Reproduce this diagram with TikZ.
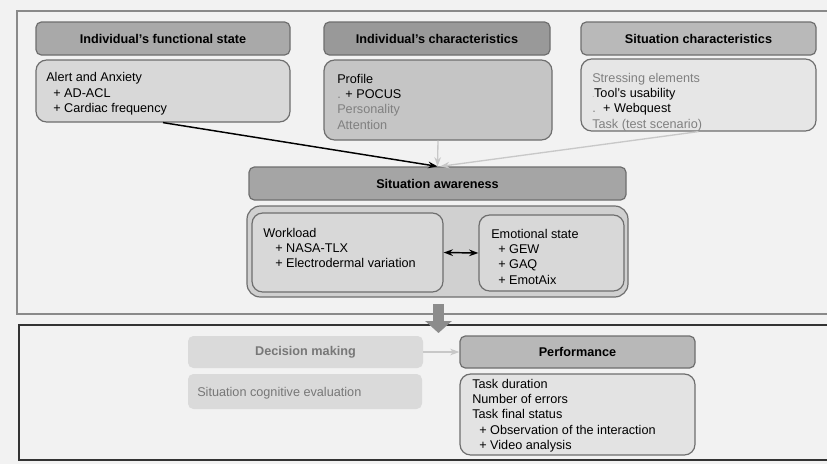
\documentclass[tikz,border=0pt]{standalone}
\usepackage{fontspec}
\setmainfont{Liberation Sans}
\usetikzlibrary{fit,arrows.meta,calc}
\definecolor{bg}{HTML}{F2F2F2}
\definecolor{bordc}{HTML}{6E6E6E}
\definecolor{frameA}{HTML}{8A8A8A}
\definecolor{frameB}{HTML}{333333}
\definecolor{hdrA}{HTML}{A9A9A9}
\definecolor{hdrB}{HTML}{999999}
\definecolor{hdrC}{HTML}{B9B9B9}
\definecolor{hdrS}{HTML}{A5A5A5}
\definecolor{hdrP}{HTML}{B8B8B8}
\definecolor{cntA}{HTML}{D8D8D8}
\definecolor{cntB}{HTML}{C5C5C5}
\definecolor{cntC}{HTML}{E6E6E6}
\definecolor{cntS}{HTML}{D0D0D0}
\definecolor{cntP}{HTML}{E3E3E3}
\definecolor{dimtxt}{HTML}{808080}
\definecolor{dmtxt}{HTML}{777777}
\definecolor{dmfill}{HTML}{DADADA}
\definecolor{lightarr}{HTML}{C8C8C8}
\definecolor{bigarr}{HTML}{8C8C8C}
\begin{document}
\begin{tikzpicture}[x=0.75pt,y=-0.75pt,
  font=\fontsize{9.5}{11.4}\selectfont,
  hdr/.style={draw=bordc, line width=0.9pt, rounded corners=4pt, inner sep=0pt},
  htxt/.style={inner sep=0pt, font=\fontsize{9.5}{11.4}\selectfont\bfseries},
  cbox/.style={draw=bordc, line width=0.9pt, rounded corners=8pt, inner sep=0pt},
  flat/.style={fill=dmfill, rounded corners=4pt, inner sep=0pt},
  txt/.style={anchor=north west, inner sep=0pt, align=left},
  blackarr/.style={line width=1.1pt, -{Stealth[length=7pt,width=5pt]}},
  lightconn/.style={draw=lightarr, line width=1pt, -{Stealth[length=7pt,width=5pt]}},
]
\useasboundingbox (0,0) rectangle (827,464);
\fill[bg] (0,0) rectangle (827,464);

% frames
\draw[draw=frameA, line width=1pt] (17,11) rectangle (832,314);
\draw[draw=frameB, line width=1.3pt] (19,325) rectangle (832,460);

% headers
\node[hdr, fill=hdrA, fit={(36,22) (290,55)}] (h1) {};
\node[hdr, fill=hdrB, fit={(324,22) (550,55)}] (h2) {};
\node[hdr, fill=hdrC, fit={(581,22) (816,55)}] (h3) {};
\node[htxt] (h1t) at (h1.center) {Individual’s functional state};
\node[htxt] (h2t) at (h2.center) {Individual’s characteristics};
\node[htxt] (h3t) at (h3.center) {Situation characteristics};

% content boxes top row
\node[cbox, fill=cntA, fit={(36,60) (290,122)}] (c1) {};
\node[cbox, fill=cntB, fit={(324,60) (552,140)}] (c2) {};
\node[cbox, fill=cntC, fit={(581,59) (816,131)}] (c3) {};

\node[txt] (t1) at (46,72.5) {Alert and Anxiety\\\hspace{5.25pt}+ AD-ACL\\\hspace{5.25pt}+ Cardiac frequency};
\node[txt] (t2) at (337,74) {Profile\\{\color{dimtxt}.} + POCUS\\{\color{dimtxt}Personality}\\{\color{dimtxt}Attention}};
\node[txt] (t3) at (592,73) {{\color{dimtxt}Stressing elements}\\{\color{dimtxt}\tiny.}Tool’s usability\\{\color{dimtxt}.}\hspace{2pt} + Webquest\\{\color{dimtxt}Task (test scenario)}};

% situation awareness
\node[hdr, fill=hdrS, fit={(249,167) (626,200)}] (sa) {};
\node[htxt] (sat) at (sa.center) {Situation awareness};
\node[cbox, fill=cntS, fit={(247,206) (628,297)}, rounded corners=10pt] (sac) {};
\node[cbox, fill=cntA, fit={(252,213) (443,292)}] (wl) {};
\node[cbox, fill=cntA, fit={(479,215) (624,291)}] (em) {};
\node[txt] (t4) at (263,228) {Workload\\\hspace{9pt}+ NASA-TLX\\\hspace{9pt}+ Electrodermal variation};
\node[txt] (t5) at (491,229) {Emotional state\\\hspace{5.25pt}+ GEW\\\hspace{5.25pt}+ GAQ\\\hspace{5.25pt}+ EmotAix};

% connectors top
\draw[blackarr] (c1.south) -- (sa.north);
\draw[lightconn] (c2.south) -- (sa.north);
\draw[lightconn] (c3.south) -- ([xshift=2pt]sa.north);
\draw[line width=1.1pt, {Stealth[length=7pt,width=5pt]}-{Stealth[length=7pt,width=5pt]}] (wl.east) -- (em.west);

% big arrow
\coordinate (ba) at (438.5,304);
\coordinate (bb) at (438.5,333);
\draw[draw=bigarr, line width=8.25pt, -{Triangle[length=9pt,width=19.5pt]}] (ba) -- (bb);

% bottom
\node[flat, fit={(188,336) (423,368)}] (dm) {};
\node[htxt, text=dmtxt] (dmt) at (dm.center) {Decision making};
\node[flat, fit={(188,374) (422,409)}] (sce) {};
\node[txt, text=dmtxt] (t6) at (197,387) {Situation cognitive evaluation};
\node[hdr, fill=hdrP, fit={(460,336) (695,368)}] (ph) {};
\node[htxt] (pht) at (ph.center) {Performance};
\node[cbox, fill=cntP, fit={(460,374) (695,455)}] (pc) {};
\node[txt] (t7) at (472,379) {Task duration\\Number of errors\\Task final status\\\hspace{5.25pt}+ Observation of the interaction\\\hspace{5.25pt}+ Video analysis};
\draw[lightconn] (dm.east) -- (ph.west);
\end{tikzpicture}
\end{document}
